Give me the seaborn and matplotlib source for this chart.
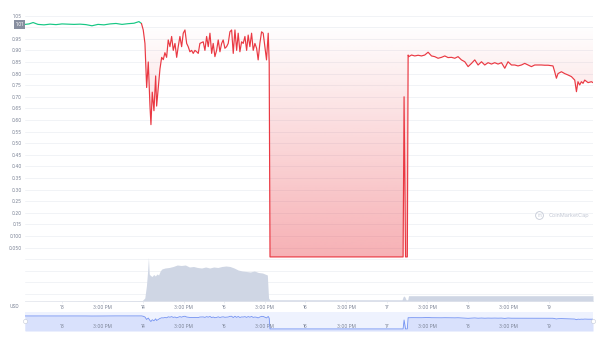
import numpy as np
import pandas as pd
import matplotlib
matplotlib.use("Agg")
import matplotlib.pyplot as plt
import seaborn as sns
from matplotlib.colors import to_rgb
from matplotlib.transforms import blended_transform_factory

# ---------------- data (day of month, price in USD) ----------------
green_t = [12.544, 12.594, 12.644, 12.704, 12.778, 12.852, 12.926, 13.000, 13.074, 13.148,
           13.222, 13.296, 13.369, 13.443, 13.517, 13.591, 13.665, 13.739, 13.813, 13.887,
           13.948, 13.979]
green_p = [1.012, 1.014, 1.020, 1.012, 1.010, 1.013, 1.011, 1.014, 1.013, 1.012,
           1.013, 1.011, 1.006, 1.012, 1.010, 1.014, 1.016, 1.012, 1.015, 1.017,
           1.024, 1.016]

red_t = [13.979, 14.001, 14.022, 14.043, 14.063, 14.084, 14.096, 14.112, 14.133, 14.154,
         14.166, 14.186, 14.207, 14.228, 14.248, 14.268, 14.289, 14.309, 14.330, 14.351,
         14.371, 14.392, 14.413, 14.432, 14.453, 14.474, 14.494, 14.515, 14.536, 14.555,
         14.576, 14.597, 14.617, 14.638, 14.659, 14.679, 14.699, 14.740, 14.761, 14.782,
         14.802, 14.823, 14.844, 14.863, 14.884, 14.905, 14.925, 14.946, 14.967, 14.986,
         15.007, 15.028, 15.048, 15.069, 15.090, 15.110, 15.131, 15.152, 15.171, 15.192,
         15.213, 15.233, 15.254, 15.275, 15.294, 15.315, 15.336, 15.356, 15.377, 15.398,
         15.417, 15.438, 15.459, 15.479, 15.500, 15.520, 15.541, 15.553, 15.563, 16.000,
         16.500, 17.000, 17.203, 17.210, 17.215, 17.222, 17.233, 17.255, 17.265, 17.273,
         17.307, 17.347, 17.388, 17.430, 17.470, 17.511, 17.553, 17.593, 17.634, 17.676,
         17.717, 17.757, 17.799, 17.840, 17.880, 17.922, 17.963, 18.004, 18.046, 18.086,
         18.127, 18.169, 18.209, 18.250, 18.292, 18.332, 18.373, 18.415, 18.456, 18.496,
         18.538, 18.579, 18.619, 18.661, 18.702, 18.742, 18.784, 18.825, 18.866, 18.907,
         18.948, 18.989, 19.050, 19.071, 19.092, 19.112, 19.154, 19.194, 19.235, 19.277,
         19.318, 19.339, 19.358, 19.379, 19.400, 19.420, 19.441, 19.482, 19.523, 19.543]
red_p = [1.016, 0.988, 0.930, 0.740, 0.850, 0.660, 0.580, 0.720, 0.640, 0.790,
         0.660, 0.740, 0.820, 0.870, 0.860, 0.890, 0.870, 0.945, 0.916, 0.960,
         0.900, 0.930, 0.870, 0.916, 0.960, 0.916, 0.974, 0.988, 0.930, 0.916,
         0.894, 0.900, 0.887, 0.900, 0.894, 0.887, 0.930, 0.937, 0.900, 0.960,
         0.916, 0.974, 0.887, 0.930, 0.873, 0.900, 0.945, 0.894, 0.930, 0.945,
         0.909, 0.916, 0.930, 0.980, 0.988, 0.887, 0.988, 0.900, 0.974, 0.894,
         0.937, 0.930, 0.960, 0.900, 0.966, 0.916, 0.974, 0.900, 0.930, 0.909,
         0.859, 0.930, 0.980, 0.974, 0.916, 0.859, 0.974, 0.845, 0.010, 0.010,
         0.010, 0.010, 0.010, 0.450, 0.700, 0.450, 0.010, 0.010, 0.880, 0.873,
         0.880, 0.876, 0.879, 0.876, 0.880, 0.892, 0.876, 0.873, 0.866, 0.870,
         0.876, 0.869, 0.870, 0.866, 0.873, 0.859, 0.851, 0.830, 0.844, 0.859,
         0.837, 0.851, 0.837, 0.847, 0.841, 0.847, 0.841, 0.847, 0.823, 0.851,
         0.837, 0.837, 0.833, 0.837, 0.844, 0.837, 0.830, 0.837, 0.837, 0.837,
         0.836, 0.836, 0.833, 0.808, 0.780, 0.800, 0.808, 0.800, 0.794, 0.787,
         0.772, 0.722, 0.765, 0.751, 0.765, 0.758, 0.772, 0.761, 0.765, 0.761]

open_price = 1.01
open_label = "1.01"

vol_t = [12.544, 13.990, 14.020, 14.040, 14.055, 14.065, 14.075, 14.090, 14.110, 14.130,
         14.150, 14.170, 14.190, 14.210, 14.230, 14.270, 14.320, 14.370, 14.420, 14.470,
         14.520, 14.570, 14.620, 14.670, 14.720, 14.770, 14.820, 14.870, 14.920, 14.970,
         15.020, 15.070, 15.120, 15.170, 15.220, 15.270, 15.320, 15.370, 15.420, 15.470,
         15.500, 15.530, 15.545, 15.560, 17.190, 17.205, 17.215, 17.225, 17.240, 17.260,
         17.270, 19.543]
vol_v = [0.00, 0.05, 0.30, 1.50, 3.00, 4.35, 2.70, 2.55, 2.45, 2.65,
         2.50, 2.70, 2.60, 3.00, 3.20, 3.30, 3.35, 3.45, 3.60, 3.55,
         3.60, 3.40, 3.45, 3.35, 3.30, 3.40, 3.30, 3.40, 3.35, 3.45,
         3.50, 3.45, 3.30, 3.10, 3.00, 2.95, 2.90, 3.00, 2.85, 2.80,
         2.70, 2.60, 0.30, 0.12, 0.12, 0.45, 0.50, 0.40, 0.12, 0.12,
         0.53, 0.53]

grid_vals = [round(-0.15 + 0.05 * i, 2) for i in range(25)]
ytick_vals = [0.05, 0.10, 0.15, 0.20, 0.25, 0.30, 0.35, 0.40, 0.45, 0.50,
              0.55, 0.60, 0.65, 0.70, 0.75, 0.80, 0.85, 0.90, 0.95, 1.05]
ytick_labels = ["0.050", "0.100", "0.15", "0.20", "0.25", "0.30", "0.35", "0.40", "0.45", "0.50",
                "0.55", "0.60", "0.65", "0.70", "0.75", "0.80", "0.85", "0.90", "0.95", "1.05"]
xtick_vals = [13, 13.5, 14, 14.5, 15, 15.5, 16, 16.5, 17, 17.5, 18, 18.5, 19]
xtick_labels = ["13", "3:00 PM", "14", "3:00 PM", "15", "3:00 PM", "16", "3:00 PM",
                "17", "3:00 PM", "18", "3:00 PM", "19"]

# ---------------- style ----------------
sns.set_theme(style="white")
plt.rcParams["font.family"] = ["Inter", "DejaVu Sans"]

RED = "#ea3943"
GREEN = "#16c784"
TXT = "#7c8496"
GRID = "#eff1f5"
VOL = "#cfd6e4"
FS = 3.4

fig = plt.figure(figsize=(6.0, 3.38), dpi=100)
fig.patch.set_facecolor("white")

W, H = 600.0, 338.0
ax = fig.add_axes([25 / W, (H - 301) / H, 568 / W, 291 / H])
ax.set_facecolor("white")

xmin, xmax = green_t[0], red_t[-1]

# grid
for g in grid_vals:
    ax.axhline(g, color=GRID, lw=0.6, zorder=0)

# gradient fill between price and open price
poly = ax.fill_between(red_t, red_p, open_price, facecolor="none", edgecolor="none")
path = poly.get_paths()[0]
n = 256
rgba = np.zeros((n, 1, 4))
rgba[..., :3] = to_rgb(RED)
rgba[:, 0, 3] = np.linspace(0.40, 0.0, n)
im = ax.imshow(rgba, extent=[xmin, xmax, 0.0, open_price], origin="lower",
               aspect="auto", zorder=1, interpolation="bilinear")
im.set_clip_path(path, transform=ax.transData)

# price lines
sns.lineplot(x=green_t, y=green_p, ax=ax, color=GREEN, linewidth=0.85,
             estimator=None, sort=False, zorder=3)
sns.lineplot(x=red_t, y=red_p, ax=ax, color=RED, linewidth=0.85,
             estimator=None, sort=False, zorder=3)

ax.set_xlim(xmin, xmax)
ax.set_ylim(-0.18, 1.074)
ax.set_yticks(ytick_vals)
ax.set_yticklabels(ytick_labels)
ax.set_xticks(xtick_vals)
ax.set_xticklabels(xtick_labels)
ax.tick_params(axis="y", length=0, pad=2.3, labelsize=FS, labelcolor=TXT)
ax.tick_params(axis="x", length=1.5, width=0.4, color="#dfe3ea", pad=1.5,
               labelsize=FS, labelcolor=TXT, bottom=True)
ax.grid(False)
for s in ["top", "right", "left"]:
    ax.spines[s].set_visible(False)
ax.spines["bottom"].set_color("#e6e9ef")
ax.spines["bottom"].set_linewidth(0.6)

# volume on twin axis
ax2 = ax.twinx()
ax2.fill_between(vol_t, vol_v, 0, color=VOL, lw=0, zorder=1)
ax2.set_ylim(0, 29.1)
ax2.set_xlim(xmin, xmax)
ax2.set_yticks([])
for s in ax2.spines.values():
    s.set_visible(False)
ax2.grid(False)

# open price marker box
trans = blended_transform_factory(ax.transAxes, ax.transData)
ax.text(-0.0025, open_price, open_label, transform=trans, ha="right", va="center",
        fontsize=FS, color="white", zorder=6, clip_on=False,
        bbox=dict(boxstyle="square,pad=0.4", fc="#878e9f", ec="none"))

# watermark
ax.text(0.921, 0.2955, "CoinMarketCap", transform=ax.transAxes, ha="left", va="center",
        fontsize=4.0, color="#c5cad6", zorder=2)
ax.plot([0.9055], [0.2955], marker="o", markersize=5.6, markerfacecolor="none",
        markeredgecolor="#c5cad6", markeredgewidth=0.6, transform=ax.transAxes, zorder=2)
ax.text(0.9055, 0.2955, "m", transform=ax.transAxes, ha="center", va="center",
        fontsize=3.2, color="#c5cad6", zorder=2)

fig.text(10 / W, 1 - 306.5 / H, "USD", ha="left", va="center", fontsize=FS, color=TXT)

# navigator
axn = fig.add_axes([25 / W, (H - 331) / H, 568 / W, 19.3 / H])
axn.set_facecolor("#eef2fe")
all_t = green_t + red_t[1:]
all_p = green_p + red_p[1:]
axn.fill_between(all_t, all_p, -0.15, color="#d9e1fc", lw=0, zorder=1)
sns.lineplot(x=all_t, y=all_p, ax=axn, color="#7392f2", linewidth=0.6,
             estimator=None, sort=False, zorder=2)
axn.set_xlim(xmin, xmax)
axn.set_ylim(-0.15, 1.34)
axn.set_xticks([])
axn.set_yticks([])
axn.set_xlabel("")
axn.set_ylabel("")
for s in axn.spines.values():
    s.set_visible(False)
ntrans = blended_transform_factory(axn.transData, axn.transAxes)
for xv, lab in zip(xtick_vals, xtick_labels):
    axn.text(xv, 0.22, lab, transform=ntrans, ha="center", va="center",
             fontsize=FS, color=TXT, zorder=3)
for xe in (0.0, 1.0):
    axn.plot([xe], [0.5], marker="o", markersize=3.0, markerfacecolor="white",
             markeredgecolor="#c3c9d6", markeredgewidth=0.4, transform=axn.transAxes,
             clip_on=False, zorder=4)

ax.set_xlabel("")
ax.set_ylabel("")
ax2.set_ylabel("")

fig.savefig("out.png", dpi=100, facecolor="white")
